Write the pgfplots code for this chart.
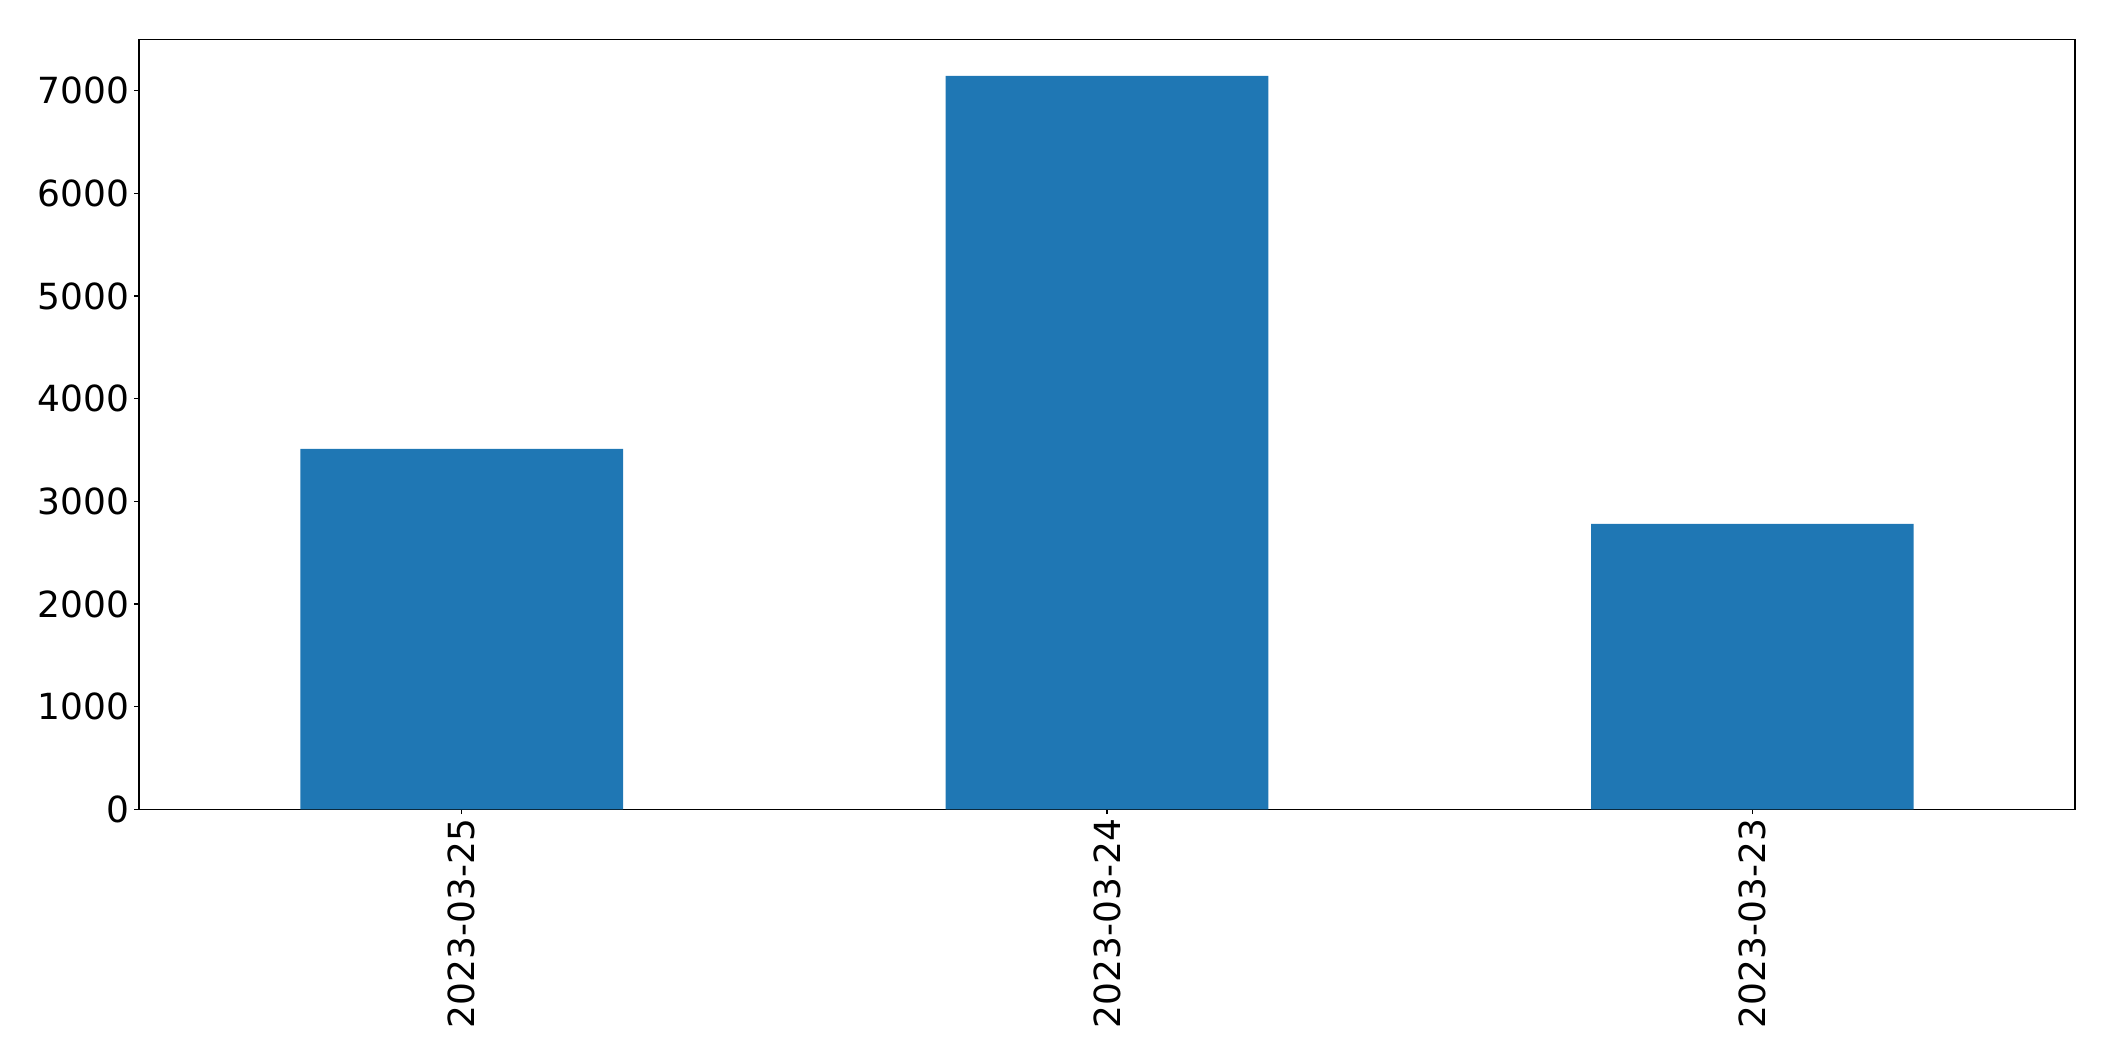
\documentclass[border=0pt]{standalone}
\usepackage{pgfplots}
\pgfplotsset{compat=1.18}
\usepackage{fontspec}
\setmainfont{DejaVu Sans}
\definecolor{tabblue}{HTML}{1F77B4}

\begin{document}
\begin{tikzpicture}
\begin{axis}[
	at={(0,0)}, anchor=south west,
	scale only axis,
	width=1393.9bp, height=554.4bp,
	ybar, bar width=0.5,
	xmin=-0.5, xmax=2.5,
	ymin=0, ymax=7500,
	xtick={0,1,2},
	xticklabels={2023-03-25,2023-03-24,2023-03-23},
	ytick={0,1000,2000,3000,4000,5000,6000,7000},
	scaled y ticks=false,
	/pgf/number format/assume math mode=true,
	/pgf/number format/1000 sep={},
	tick label style={font=\fontsize{26}{31}\selectfont},
	xticklabel style={rotate=90, anchor=east},
	tick align=outside,
	tick pos=left,
	major tick length=3.5pt,
	every tick/.style={black, line width=0.8bp},
	axis line style={line width=0.8bp},
	xtick style={black}, ytick style={black},
]
\addplot[fill=tabblue, draw=none] coordinates {
	(0,3510)
	(1,7143)
	(2,2780)
};
\end{axis}
\pgfresetboundingbox
\path[use as bounding box] (-100.1bp,-181.4bp) rectangle (1422.7bp,582.7bp);
\end{tikzpicture}
\end{document}
